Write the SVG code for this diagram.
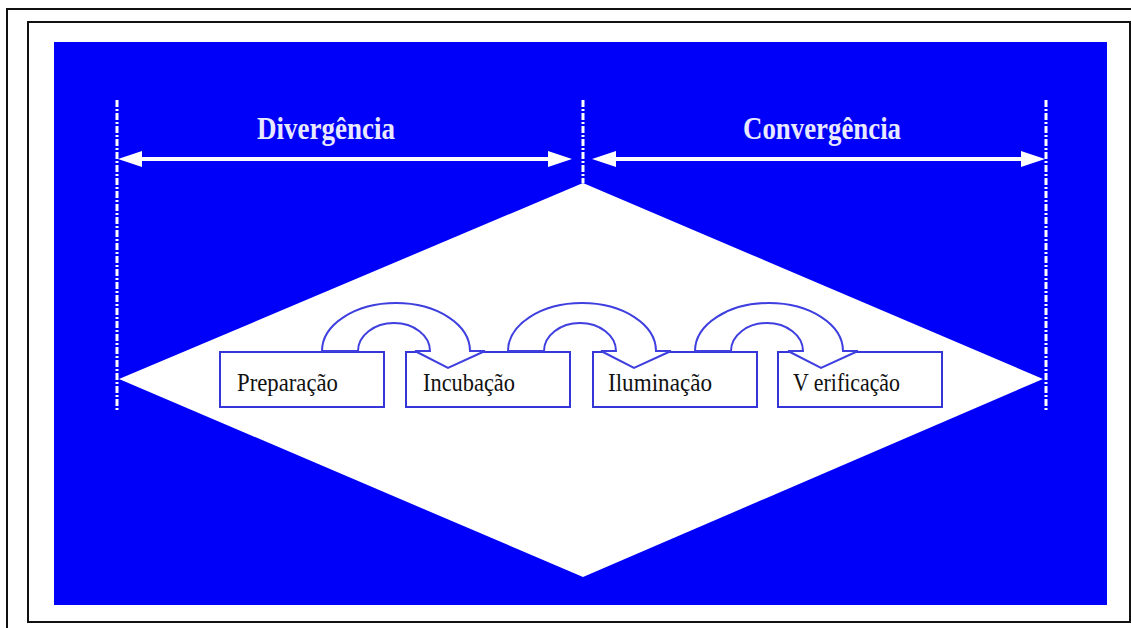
<svg xmlns="http://www.w3.org/2000/svg" width="1131" height="628" viewBox="0 0 1131 628">
<defs>
<style>
.frame{fill:none;stroke:#111;stroke-width:2}
.guide{stroke:#fff;stroke-width:3;stroke-dasharray:7 2 2 2}
.span{stroke:#fff;stroke-width:4}
.head{fill:#fff}
.title{font-family:"Liberation Serif",serif;font-weight:bold;font-size:32px;fill:#e8e8ff}
.box rect{fill:#fff;stroke:#3636d8;stroke-width:2}
.box text{font-family:"Liberation Serif",serif;font-size:25px;fill:#111}
.curl{fill:#fff;stroke:#3f3fe0;stroke-width:2;stroke-linejoin:miter}
</style>
</defs>
<rect x="0" y="0" width="1131" height="628" fill="#fff"/>
<g id="frames">
<rect class="frame" x="7" y="9" width="1140" height="640"/>
<rect class="frame" x="28" y="22" width="1102" height="600"/>
</g>
<rect id="background" x="54" y="42" width="1053" height="563" fill="#0000fa"/>
<polygon id="diamond" points="119,379 583,183 1043,379 583,577" fill="#fff"/>
<g id="connectors">
<line class="guide" x1="117" y1="100" x2="117" y2="410"/>
<line class="guide" x1="583" y1="100" x2="583" y2="183"/>
<line class="guide" x1="1046" y1="100" x2="1046" y2="410"/>
<line class="span" x1="125" y1="159" x2="566" y2="159"/>
<polygon class="head" points="118,159 142,151 142,167"/>
<polygon class="head" points="572,159 548,151 548,167"/>
<line class="span" x1="598" y1="159" x2="1039" y2="159"/>
<polygon class="head" points="592,159 616,151 616,167"/>
<polygon class="head" points="1045,159 1021,151 1021,167"/>
</g>
<g id="title-divergencia"><text class="title" x="257" y="139" textLength="138" lengthAdjust="spacingAndGlyphs">Divergência</text></g>
<g id="title-convergencia"><text class="title" x="743" y="139" textLength="158" lengthAdjust="spacingAndGlyphs">Convergência</text></g>
<g id="preparacao" class="box"><rect x="220" y="352" width="164" height="55"/><text x="237" y="391" textLength="101" lengthAdjust="spacingAndGlyphs">Preparação</text></g>
<g id="incubacao" class="box"><rect x="406" y="352" width="164" height="55"/><text x="423" y="391" textLength="92" lengthAdjust="spacingAndGlyphs">Incubação</text></g>
<g id="iluminacao" class="box"><rect x="593" y="352" width="164" height="55"/><text x="608" y="391" textLength="104" lengthAdjust="spacingAndGlyphs">Iluminação</text></g>
<g id="verificacao" class="box"><rect x="778" y="352" width="164" height="55"/><text x="793" y="391" textLength="107" lengthAdjust="spacingAndGlyphs">V erificação</text></g>
<g id="curved-arrows">
<path class="curl" d="M322,351 A74,48 0 0 1 470,351 L485,351 L448,368 L415,351 L430,351 A36,28 0 0 0 358,351 Z"/>
<path class="curl" d="M508,351 A74,48 0 0 1 656,351 L671,351 L634,368 L601,351 L616,351 A36,28 0 0 0 544,351 Z"/>
<path class="curl" d="M695,351 A74,48 0 0 1 843,351 L858,351 L821,368 L788,351 L803,351 A36,28 0 0 0 731,351 Z"/>
</g>
</svg>
